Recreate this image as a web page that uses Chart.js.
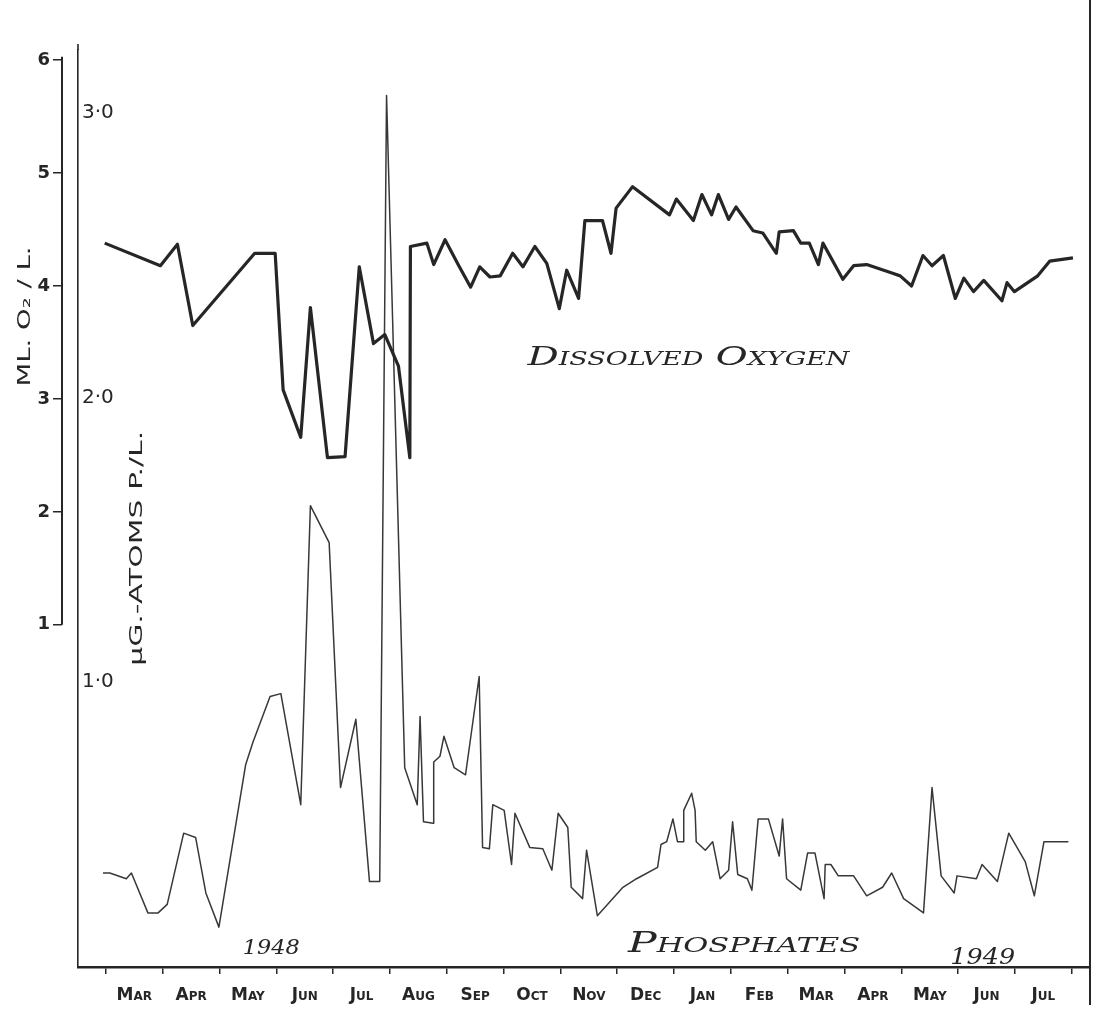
<!DOCTYPE html>
<html>
<head>
<meta charset="utf-8">
<title>Dissolved oxygen and phosphates 1948-1949</title>
<script src="https://cdn.jsdelivr.net/npm/chart.js@4.4.1/dist/chart.umd.min.js"></script>
<style>
    html, body { margin: 0; padding: 0; background: #ffffff; }
</style>
</head>
<body>
<canvas id="chart" width="1096" height="1019"></canvas>
<script>
// x is in months counted from 1 March 1948
const months = ['Mar', 'Apr', 'May', 'Jun', 'Jul', 'Aug', 'Sep', 'Oct', 'Nov', 'Dec',
                'Jan', 'Feb', 'Mar', 'Apr', 'May', 'Jun', 'Jul'];
const monthTicks = [0, 1, 2, 3, 4, 5, 6, 7, 8, 9, 10, 11, 12, 13, 14, 15, 16, 17];
const o2Ticks = [1, 2, 3, 4, 5, 6];
const phosTicks = [1, 2, 3];

// Dissolved oxygen, ml O2 / l
const oxyX = [-0.02, 0.96, 1.26, 1.53, 2.62, 2.98, 3.12, 3.43, 3.60, 3.90,
              4.21, 4.46, 4.71, 4.91, 5.15, 5.35, 5.36, 5.65, 5.77, 5.97,
              6.20, 6.42, 6.58, 6.76, 6.94, 7.16, 7.34, 7.55, 7.76, 7.98,
              8.11, 8.32, 8.43, 8.74, 8.89, 8.98, 9.27, 9.92, 10.04, 10.34,
              10.49, 10.66, 10.78, 10.96, 11.09, 11.39, 11.56, 11.80, 11.85, 12.10,
              12.23, 12.38, 12.54, 12.62, 12.97, 13.16, 13.39, 13.86, 13.98, 14.18,
              14.38, 14.54, 14.74, 14.95, 15.10, 15.27, 15.45, 15.77, 15.86, 15.99,
              16.40, 16.61, 17.02];
const oxyY = [4.38, 4.18, 4.37, 3.65, 4.29, 4.29, 3.08, 2.66, 3.81, 2.48,
              2.49, 4.17, 3.49, 3.57, 3.29, 2.48, 4.35, 4.38, 4.19, 4.41,
              4.19, 3.99, 4.17, 4.08, 4.09, 4.29, 4.17, 4.35, 4.20, 3.80,
              4.14, 3.89, 4.58, 4.58, 4.29, 4.69, 4.88, 4.63, 4.77, 4.58,
              4.81, 4.63, 4.81, 4.59, 4.70, 4.49, 4.47, 4.29, 4.48, 4.49,
              4.38, 4.38, 4.19, 4.38, 4.06, 4.18, 4.19, 4.11, 4.09, 4.00,
              4.27, 4.18, 4.27, 3.89, 4.07, 3.95, 4.05, 3.87, 4.03, 3.95,
              4.09, 4.22, 4.25];

// Phosphates, ug-atoms P / l
const phosX = [-0.05, 0.07, 0.36, 0.45, 0.74, 0.92, 1.08, 1.37, 1.58, 1.76,
               1.99, 2.46, 2.59, 2.89, 3.08, 3.43, 3.60, 3.93, 4.13, 4.40,
               4.64, 4.82, 4.94, 5.26, 5.48, 5.53, 5.59, 5.76, 5.77, 5.88,
               5.95, 6.13, 6.33, 6.57, 6.63, 6.75, 6.81, 7.01, 7.14, 7.20,
               7.46, 7.69, 7.85, 7.96, 8.13, 8.19, 8.39, 8.46, 8.65, 9.10,
               9.34, 9.71, 9.77, 9.87, 9.98, 10.06, 10.16, 10.17, 10.31, 10.37,
               10.39, 10.55, 10.68, 10.81, 10.96, 11.03, 11.12, 11.29, 11.37, 11.48,
               11.66, 11.85, 11.91, 11.98, 12.23, 12.35, 12.48, 12.64, 12.66, 12.76,
               12.89, 13.16, 13.39, 13.67, 13.83, 14.04, 14.39, 14.54, 14.70, 14.93,
               14.98, 15.32, 15.42, 15.69, 15.89, 16.18, 16.34, 16.51, 16.94];
const phosY = [0.33, 0.33, 0.31, 0.33, 0.19, 0.19, 0.22, 0.47, 0.455, 0.26,
               0.14, 0.71, 0.79, 0.95, 0.96, 0.57, 1.62, 1.49, 0.63, 0.87,
               0.30, 0.30, 3.06, 0.70, 0.57, 0.88, 0.51, 0.505, 0.72, 0.74,
               0.81, 0.70, 0.675, 1.02, 0.42, 0.415, 0.57, 0.55, 0.36, 0.54,
               0.42, 0.415, 0.34, 0.54, 0.49, 0.28, 0.24, 0.41, 0.18, 0.28,
               0.31, 0.35, 0.43, 0.44, 0.52, 0.44, 0.44, 0.55, 0.61, 0.55,
               0.44, 0.41, 0.44, 0.31, 0.34, 0.51, 0.325, 0.31, 0.27, 0.52,
               0.52, 0.39, 0.52, 0.31, 0.27, 0.40, 0.40, 0.24, 0.36, 0.36,
               0.32, 0.32, 0.25, 0.28, 0.33, 0.24, 0.19, 0.63, 0.32, 0.26,
               0.32, 0.31, 0.36, 0.30, 0.47, 0.37, 0.25, 0.44, 0.44];

const ink = '#262626';

// Lettering written on the plot, placed in data units
const notes = [
    { text: 'Dissolved Oxygen', x: 7.42, y: 3.30, axis: 'y', w: 322, font: 'italic small-caps 26px "DejaVu Serif"' },
    { text: 'Phosphates', x: 9.19, y: 0.053, axis: 'yP', w: 232, font: 'italic small-caps 28px "DejaVu Serif"' },
    { text: '1948', x: 2.41, y: 0.046, axis: 'yP', w: 57, font: 'italic 21px "DejaVu Serif"' },
    { text: '1949', x: 14.86, y: 0.01, axis: 'yP', w: 65, font: 'italic 22px "DejaVu Serif"' },
    { text: '\u00b5G.-ATOMS P./L.', x: 0.56, y: 1.47, axis: 'yP', w: 235, rotate: true, font: '17px "DejaVu Sans"' }
];

function drawFitted(ctx, text, px, py, w, font, rotate) {
    ctx.save();
    ctx.font = font;
    const sx = w / ctx.measureText(text).width;
    ctx.translate(px, py);
    if (rotate) {
        ctx.rotate(-Math.PI / 2);
        ctx.textAlign = 'center';
        ctx.textBaseline = 'middle';
    } else {
        ctx.textAlign = 'left';
        ctx.textBaseline = 'alphabetic';
    }
    ctx.scale(sx, 1);
    ctx.fillStyle = ink;
    ctx.fillText(text, 0, 0);
    ctx.restore();
}

const handDrawn = {
    id: 'handDrawn',
    afterDraw(chart) {
        const { ctx, chartArea, scales } = chart;
        const o2 = scales.y;
        ctx.save();
        ctx.strokeStyle = ink;
        ctx.lineWidth = 2;
        // the oxygen axis is only drawn from 1 to 6
        ctx.beginPath();
        ctx.moveTo(o2.right, o2.getPixelForValue(6.03));
        ctx.lineTo(o2.right, o2.getPixelForValue(1));
        ctx.stroke();
        // phosphate axis starts a little above the plot
        ctx.lineWidth = 1.6;
        ctx.beginPath();
        ctx.moveTo(chartArea.left, chartArea.top - 6);
        ctx.lineTo(chartArea.left, chartArea.top);
        ctx.stroke();
        // frame line on the right
        ctx.lineWidth = 2;
        ctx.beginPath();
        ctx.moveTo(chartArea.right, 0);
        ctx.lineTo(chartArea.right, chart.height - 14);
        ctx.stroke();
        ctx.restore();

        // oxygen axis title
        drawFitted(ctx, 'ML. O\u2082 / L.', o2.left + 26, o2.getPixelForValue(3.73), 140, '17px "DejaVu Sans"', true);

        notes.forEach(n => {
            const px = scales.x.getPixelForValue(n.x);
            const py = scales[n.axis].getPixelForValue(n.y);
            drawFitted(ctx, n.text, px, py, n.w, n.font, n.rotate);
        });
    }
};

const ctx = document.getElementById('chart').getContext('2d');
new Chart(ctx, {
    type: 'line',
    data: {
        datasets: [{
            label: 'Dissolved oxygen',
            data: oxyX.map((x, i) => ({ x: x, y: oxyY[i] })),
            xAxisID: 'x',
            yAxisID: 'y',
            borderColor: ink,
            borderWidth: 3.2,
            borderJoinStyle: 'round',
            pointRadius: 0,
            tension: 0
        }, {
            label: 'Phosphates',
            data: phosX.map((x, i) => ({ x: x, y: phosY[i] })),
            xAxisID: 'x',
            yAxisID: 'yP',
            borderColor: '#383838',
            borderWidth: 1.5,
            borderJoinStyle: 'round',
            pointRadius: 0,
            tension: 0
        }]
    },
    options: {
        responsive: false,
        animation: false,
        layout: {
            padding: { top: 50, right: 6, left: 0, bottom: 0 }
        },
        plugins: {
            legend: { display: false },
            tooltip: { enabled: false }
        },
        scales: {
            x: {
                type: 'linear',
                position: 'bottom',
                weight: 0,
                min: -0.49,
                max: 17.32,
                afterBuildTicks: s => { s.ticks = monthTicks.map(v => ({ value: v })); },
                afterFit: s => { s.height = 8; },
                ticks: { display: false },
                grid: {
                    drawOnChartArea: false,
                    drawTicks: true,
                    tickLength: 7,
                    color: ink,
                    lineWidth: 1.5
                },
                border: { display: true, color: ink, width: 2.5 }
            },
            xm: {
                type: 'linear',
                position: 'bottom',
                weight: 1,
                min: -0.49,
                max: 17.32,
                afterBuildTicks: s => { s.ticks = months.map((m, i) => ({ value: i + 0.5 })); },
                afterFit: s => { s.height = 44; },
                ticks: {
                    autoSkip: false,
                    maxRotation: 0,
                    padding: 10,
                    color: ink,
                    font: { family: '"DejaVu Sans"', size: 17, weight: 'small-caps 600' },
                    callback: (v, i) => months[i]
                },
                grid: { display: false, drawTicks: false },
                border: { display: false }
            },
            y: {
                position: 'left',
                weight: 1,
                min: -2.03,
                max: 6.09,
                afterBuildTicks: s => { s.ticks = o2Ticks.map(v => ({ value: v })); },
                afterFit: s => { s.width = 62; },
                ticks: {
                    padding: 3,
                    color: ink,
                    font: { family: '"DejaVu Sans"', size: 18, weight: 'bold' }
                },
                grid: {
                    drawOnChartArea: false,
                    tickLength: 9,
                    color: ink,
                    lineWidth: 1.5
                },
                border: { display: false }
            },
            yP: {
                position: 'left',
                weight: 0,
                min: 0,
                max: 3.22,
                afterBuildTicks: s => { s.ticks = phosTicks.map(v => ({ value: v })); },
                afterFit: s => { s.width = 16; },
                ticks: {
                    mirror: true,
                    padding: 4,
                    color: ink,
                    font: { family: '"DejaVu Sans"', size: 20 },
                    callback: v => v.toFixed(1).replace('.', '\u00b7')
                },
                grid: { display: false, drawTicks: false },
                border: { display: true, color: ink, width: 1.6 }
            }
        }
    },
    plugins: [handDrawn]
});
</script>
</body>
</html>
